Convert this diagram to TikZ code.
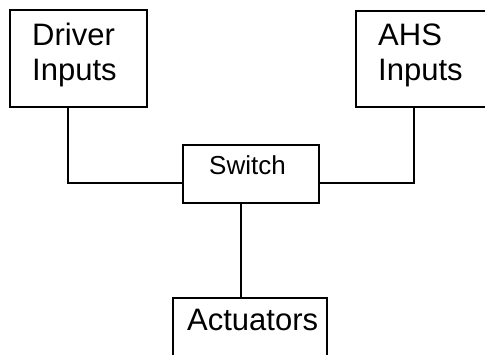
\documentclass[tikz,border=0pt]{standalone}
\usepackage{fontspec}
\setmainfont{Liberation Sans}
\usetikzlibrary{calc}
\begin{document}
\begin{tikzpicture}[x=0.75pt,y=-0.75pt,
  box/.style={draw,line width=1.6pt,fill=white,rectangle,inner sep=0pt},
  big/.style={font=\fontsize{23.25}{26.6}\selectfont,inner sep=0pt,align=left,anchor=base west},
  small/.style={font=\fontsize{19.5}{22}\selectfont,inner sep=0pt,anchor=base west},
  wire/.style={line width=1.6pt}]
\useasboundingbox (0,0) rectangle (485,354);
\clip (0,0) rectangle (485,354);

% blocks
\node[box,minimum width=137*0.75pt,minimum height=97*0.75pt] (drv) at (78.5,58.5) {};
\node[box,minimum width=130*0.75pt,minimum height=96*0.75pt] (ahs) at (421,59) {};
\node[box,minimum width=136*0.75pt,minimum height=58*0.75pt] (sw) at (251,174) {};
\node[box,minimum width=154*0.75pt,minimum height=64*0.75pt] (act) at (250,330) {};

% labels (base anchor sits on the last line)
\node[big] (drvtxt) at ($(drv.north west)+(23,72)$) {Driver\\Inputs};
\node[big] (ahstxt) at ($(ahs.north west)+(23,71)$) {AHS\\Inputs};
\node[small] (swtxt) at ($(sw.north west)+(27,31)$) {Switch};
\node[big] (acttxt) at ($(act.north west)+(15,34)$) {Actuators};

% connections
\coordinate (swl) at ($(sw.west)+(0,9)$);
\coordinate (swr) at ($(sw.east)+(0,9)$);
\coordinate (swb) at ($(sw.south)+(-10,0)$);
\coordinate (actt) at (swb |- act.north);
\draw[wire] ($(drv.south)+(-10.5,0)$) |- (swl);
\draw[wire] ($(ahs.south)+(-7,0)$) |- (swr);
\draw[wire] (swb) -- (actt);
\end{tikzpicture}
\end{document}
